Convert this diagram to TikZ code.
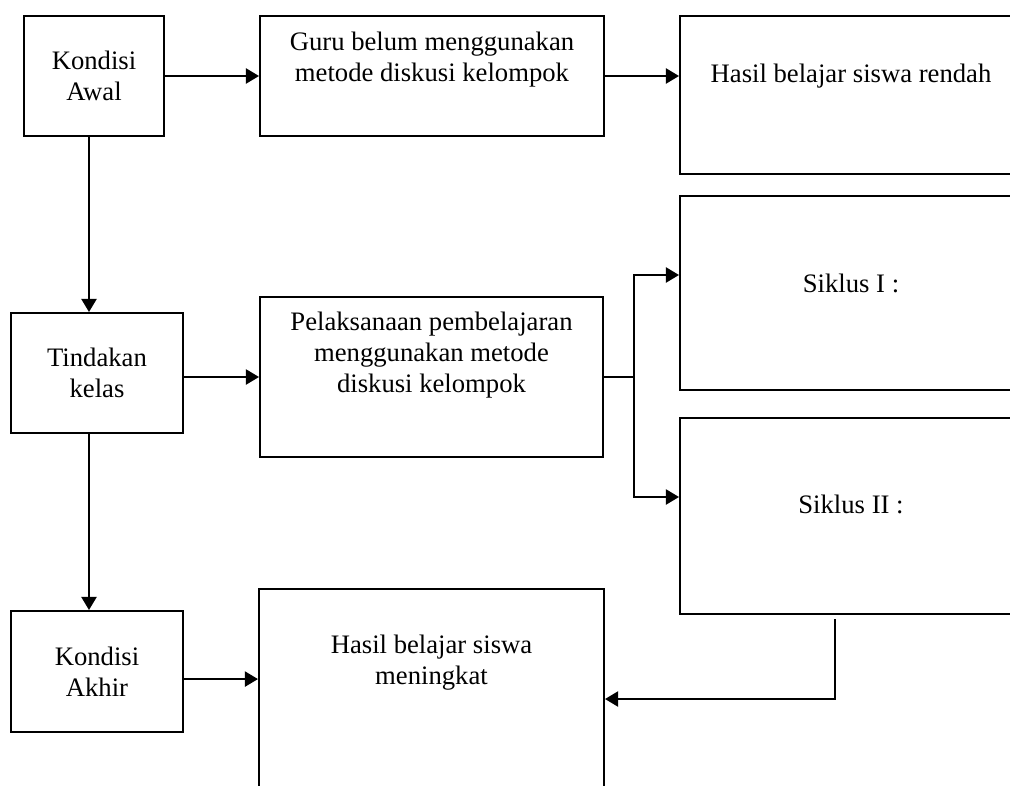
\documentclass[tikz,border=0pt]{standalone}
\usepackage{fontspec}
\setmainfont{Liberation Serif}
\usetikzlibrary{arrows.meta,positioning}
\tikzstyle{blok} = [draw, line width=0.9pt, anchor=north west, align=center, inner sep=0pt, font=\fontsize{12}{13.95}\selectfont]
\tikzstyle{teks} = [align=center, inner sep=0pt, font=\fontsize{12}{13.95}\selectfont]
\tikzstyle{arrow} = [draw, line width=0.9pt, -{Triangle[length=5.9pt,width=6.8pt]}]
\tikzstyle{line} = [draw, line width=0.9pt]
\newcommand{\blok}[4]{node (#1) [blok, minimum width=#2, minimum height=#3] {#4}}

\begin{document}
\begin{tikzpicture}[x=0.45pt,y=-0.45pt]
\useasboundingbox (0,0) rectangle (1010,785);
\clip (0,0) rectangle (1010,785);

% kolom kiri
\path (23,15) \blok{ka}{63pt}{54pt}{Kondisi\\Awal};
\path (10,312) \blok{tk}{77.4pt}{54pt}{Tindakan\\kelas};
\path (10,610) \blok{kk}{77.4pt}{54.45pt}{Kondisi\\Akhir};

% kolom tengah
\path (259,15) \blok{guru}{154.8pt}{54pt}{};
\path (259,296) \blok{pl}{154.35pt}{72pt}{};
\path (258,588) \blok{hm}{155.25pt}{99pt}{};
\node (guru-t) [teks, below=7.65pt of guru.north] {Guru belum menggunakan\\metode diskusi kelompok};
\node (pl-t) [teks, below=7.2pt of pl.north] {Pelaksanaan pembelajaran\\menggunakan metode\\diskusi kelompok};
\node (hm-t) [teks, below=21.15pt of hm.north] {Hasil belajar siswa\\meningkat};

% kolom kanan
\path (679,15) \blok{rendah}{153.9pt}{71.1pt}{};
\path (679,195) \blok{s1}{153.9pt}{87.3pt}{};
\path (679,417) \blok{s2}{153.9pt}{88.2pt}{};
\node (rendah-t) [teks, below=22pt of rendah.north] {Hasil belajar siswa rendah};
\node (s1-t) [teks, below=35.5pt of s1.north] {Siklus I :};
\node (s2-t) [teks, below=35.1pt of s2.north] {Siklus II :};

% panah
\path [arrow] (ka.east) -- (ka.east -| guru.west);
\path [arrow] (guru.east) -- (guru.east -| rendah.west);
\path [arrow] ([xshift=-2.25pt]ka.south) -- ([xshift=-2.25pt]ka.south |- tk.north);
\path [arrow] (tk.east |- pl.west) -- (pl.west);
\path [arrow] ([xshift=-3.6pt]tk.south) -- ([xshift=-3.6pt]tk.south |- kk.north);
\path [arrow] ([yshift=-3.4pt]kk.east) -- ([yshift=-3.4pt]kk.east -| hm.west);
\coordinate (cabang) at ([xshift=13.5pt]pl.east);
\path [line] (pl.east) -- (cabang);
\path [arrow] (cabang) |- ([yshift=8.1pt]s1.west);
\path [arrow] (cabang) |- ([yshift=8.55pt]s2.west);
\path [arrow] ([xshift=-7.2pt,yshift=-1.8pt]s2.south) |- (hm.east);
\end{tikzpicture}
\end{document}
